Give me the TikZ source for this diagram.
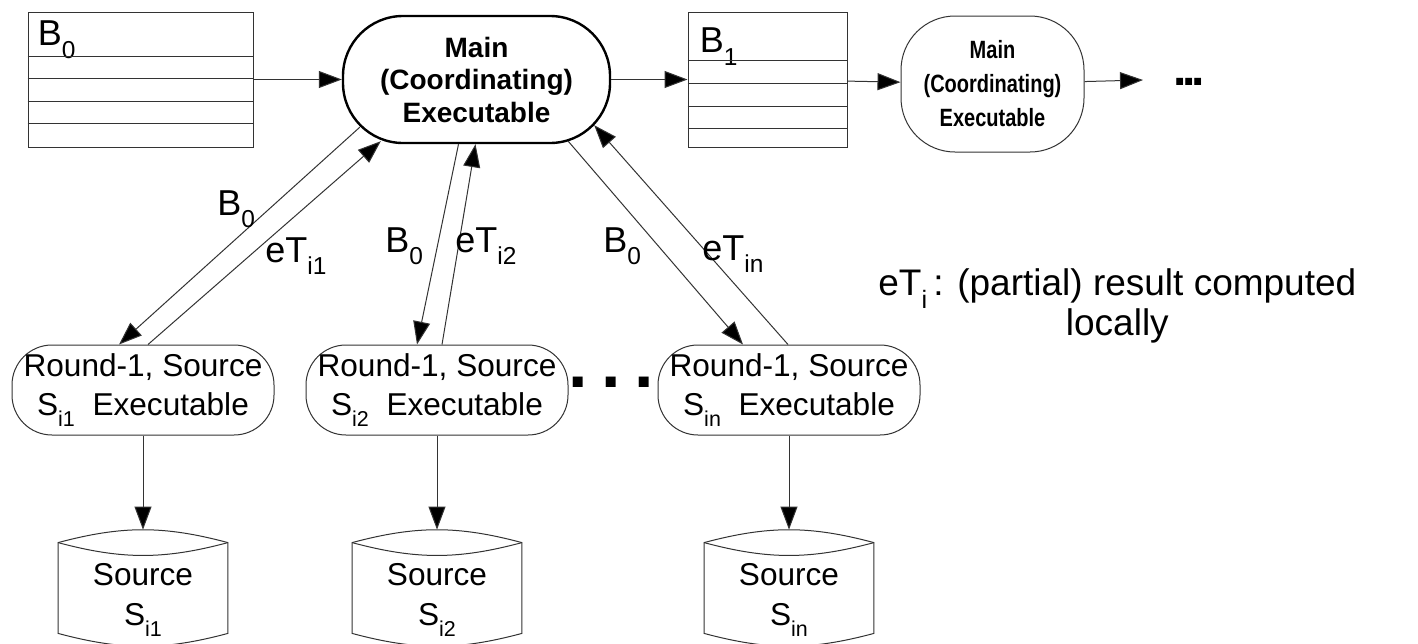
\documentclass[tikz,border=0pt]{standalone}
\usepackage{fontspec}
\setmainfont{Liberation Sans}
\newfontfamily\narrowfont[FakeStretch=0.8]{Liberation Sans}
\usepackage{tikz}
\usetikzlibrary{positioning,arrows.meta,calc}

\newcommand{\lsub}[1]{\raisebox{-0.35em}{\scalebox{0.68}{#1}}}

\begin{document}
\begin{tikzpicture}[x=0.5pt,y=-0.5pt]
\tikzstyle{every node}+=[inner sep=0pt]
\tikzstyle{thin}=[draw=black!80,line width=0.5pt]
\tikzstyle{arr}=[thin,-{Triangle[length=11.5pt,width=8.5pt]},arrows={[fill=black]}]
\tikzstyle{buffer}=[thin,minimum height=67.5pt]
\tikzstyle{mainexe}=[draw,line width=1.2pt,rounded corners=30pt,minimum width=133.5pt,minimum height=63.5pt,align=center,font=\fontsize{14}{16.25}\selectfont\bfseries]
\tikzstyle{nextexe}=[thin,rounded corners=27pt,minimum width=91.5pt,minimum height=68pt,align=center,font=\narrowfont\fontsize{12.5}{17}\selectfont\bfseries]
\tikzstyle{roundexe}=[thin,rounded corners=20pt,minimum width=131pt,minimum height=45pt,align=center,font=\fontsize{15.8}{19.5}\selectfont]
\tikzstyle{drum}=[minimum width=84.5pt,minimum height=45pt,align=center,font=\fontsize{15.8}{20}\selectfont]
\tikzstyle{lbl}=[anchor=base west,font=\fontsize{18}{20}\selectfont]

\path[fill=white,use as bounding box] (0,0) rectangle (1418,643);

% top row: buffers and coordinating executables
\node[buffer,minimum width=112.5pt] (b0) at (140.5,79.5) {};
\node[lbl] (b0name) at ([shift={(10,34)}]b0.north west) {B\lsub{0}};
\foreach \dy in {45,67,90,112}
  \draw[thin] ([shift={(0,\dy)}]b0.north west) -- ([shift={(0,\dy)}]b0.north east);

\node[mainexe] (m1) at (476.5,79.5) {Main\\(Coordinating)\\Executable};

\node[buffer,minimum width=79.5pt] (b1) at (767.5,79.5) {};
\node[lbl] (b1name) at ([shift={(12,41)}]b1.north west) {B\lsub{1}};
\foreach \dy in {49,72,95,117}
  \draw[thin] ([shift={(0,\dy)}]b1.north west) -- ([shift={(0,\dy)}]b1.north east);

\node[nextexe] (m2) at (992.5,84) {Main\\(Coordinating)\\Executable};
\coordinate (cont) at (1143,80);
\node[anchor=base,font=\fontsize{24}{24}\selectfont\bfseries] (more) at (1189,85) {.\kern-2pt.\kern-2pt.};

\draw[arr] (b0) -- (m1);
\draw[arr] (m1) -- (b1);
\draw[arr] (b1) -- (m2);
\draw[arr] (m2) -- (cont);

% round-1 source executables
\node[roundexe] (r1) at (143,390) {Round-1, Source\\S\lsub{i1}~~Executable};
\node[roundexe] (r2) at (437,390) {Round-1, Source\\S\lsub{i2}~~Executable};
\node[roundexe] (r3) at (789,390) {Round-1, Source\\S\lsub{in}~~Executable};
\node[anchor=base,font=\fontsize{35}{35}\selectfont\bfseries] (gap) at (611,387) {.\kern6.75pt.\kern6.75pt.};

% B0 down, partial results up
\draw[arr] ([shift={(18,-17)}]m1.south west) -- ([shift={(-24,0)}]r1.north);
\draw[arr] ([shift={(5,0)}]r1.north) -- ([shift={(39,-3)}]m1.south west);
\draw[arr] ([shift={(-18,0)}]m1.south) -- ([shift={(-20,0)}]r2.north);
\draw[arr] ([shift={(5,0)}]r2.north) -- ([shift={(-1,0)}]m1.south);
\draw[arr] ([shift={(-43,-3)}]m1.south east) -- ([shift={(-46,0)}]r3.north);
\draw[arr] ([shift={(-1,0)}]r3.north) -- ([shift={(-17,-19)}]m1.south east);

\node[lbl] (l1a) at (217,215) {B\lsub{0}};
\node[lbl] (l1b) at (265,262) {eT\lsub{i1}};
\node[lbl] (l2a) at (385,252) {B\lsub{0}};
\node[lbl] (l2b) at (455,252) {eT\lsub{i2}};
\node[lbl] (l3a) at (603,252) {B\lsub{0}};
\node[lbl] (l3b) at (702,260) {eT\lsub{in}};

\node[anchor=north west,align=center,font=\fontsize{18.5}{20}\selectfont] (note) at (878,268)
  {eT\lsub{i}\,: (partial) result computed\\locally};

% data sources, drum outline sits 12 units above the text box
\node[drum] (s1) at (143,600) {Source\\S\lsub{i1}};
\node[drum] (s2) at (437,600) {Source\\S\lsub{i2}};
\node[drum] (s3) at (789,600) {Source\\S\lsub{in}};
\foreach \s in {s1,s2,s3} {
  \draw[thin] ([yshift=6pt]\s.north west) to[bend left=15] ([yshift=6pt]\s.north east)
    -- ([yshift=6pt]\s.south east) to[bend left=15] ([yshift=6pt]\s.south west) -- cycle;
  \draw[thin] ([yshift=6pt]\s.north west) to[bend right=15] ([yshift=6pt]\s.north east);
}

\draw[arr] (r1) -- ([yshift=12.5pt]s1.north);
\draw[arr] (r2) -- ([yshift=12.5pt]s2.north);
\draw[arr] (r3) -- ([yshift=12.5pt]s3.north);
\end{tikzpicture}
\end{document}
